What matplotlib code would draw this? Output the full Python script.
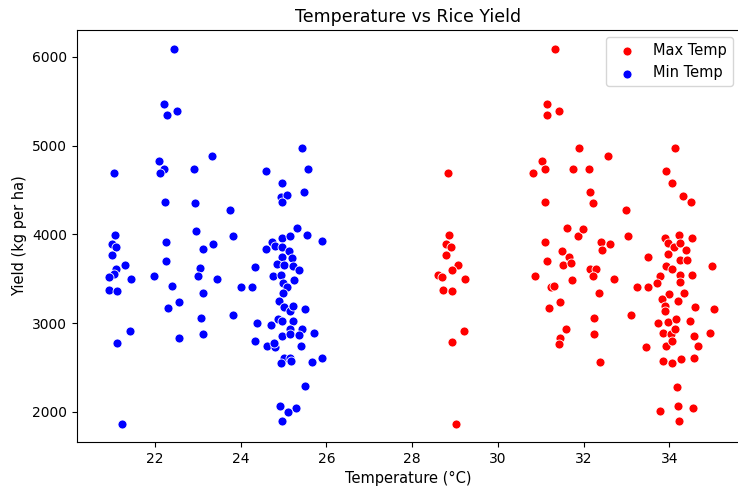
import numpy as np
import matplotlib
matplotlib.use("Agg")
import matplotlib.pyplot as plt

# Min temperature points (temp, yield)
min_temp = [22.45, 22.20, 22.52, 22.27, 22.09, 22.20, 22.12, 21.04, 22.90, 23.33,
            24.59, 24.96, 22.23, 22.93, 23.76, 21.07, 22.96, 23.81, 22.25, 23.36,
            20.99, 21.10, 23.11, 20.99, 24.59, 21.30, 22.25, 21.09, 21.05, 20.92,
            21.44, 21.98, 23.05, 23.00, 23.45, 24.33, 24.75, 20.92, 21.12, 22.40,
            23.12, 24.00, 24.26, 22.57, 22.30, 23.08, 23.82, 24.38, 24.70, 21.42,
            22.57, 23.11, 21.12, 24.33, 24.62, 24.79, 24.78, 21.24, 25.43, 25.56,
            25.48, 24.94, 25.07, 24.96, 25.31, 25.54, 24.96, 25.14, 24.73, 25.89,
            24.80, 24.96, 25.12, 24.96, 25.19, 24.84, 25.00, 25.23, 25.35, 24.93,
            24.98, 25.25, 25.08, 24.98, 24.90, 25.00, 25.14, 25.22, 25.49, 24.86,
            24.96, 25.22, 25.15, 25.44, 25.70, 24.96, 25.16, 25.36, 25.40, 25.00,
            25.15, 24.95, 25.17, 25.67, 25.89, 25.51, 24.91, 25.29, 25.11, 24.96]
min_yield = [6090, 5467, 5391, 5343, 4824, 4741, 4689, 4689, 4741, 4884,
             4715, 4580, 4362, 4350, 4279, 3990, 4037, 3982, 3914, 3891,
             3891, 3855, 3832, 3771, 3832, 3656, 3697, 3607, 3550, 3516,
             3494, 3531, 3621, 3531, 3494, 3630, 3532, 3373, 3362, 3422,
             3336, 3407, 3407, 3238, 3167, 3058, 3095, 2998, 2982, 2915,
             2829, 2874, 2780, 2795, 2742, 2727, 2776, 1859, 4971, 4741,
             4475, 4425, 4441, 4362, 4076, 3993, 3956, 3982, 3920, 3929,
             3873, 3855, 3810, 3749, 3734, 3663, 3659, 3644, 3599, 3542,
             3455, 3482, 3403, 3336, 3253, 3178, 3140, 3193, 3155, 3050,
             3020, 3027, 2930, 2930, 2888, 2851, 2874, 2862, 2745, 2610,
             2606, 2546, 2573, 2561, 2610, 2288, 2069, 2043, 2002, 1896]

# Max temperature points (temp, yield)
max_temp = [31.89, 28.83, 31.03, 30.81, 31.09, 31.76, 31.11, 31.61, 31.88, 28.85,
            28.80, 28.91, 28.80, 31.11, 31.49, 31.67, 31.14, 31.51, 31.70, 29.08,
            28.93, 28.60, 28.70, 29.24, 30.86, 31.74, 31.23, 31.30, 28.72, 28.93,
            31.46, 31.19, 31.59, 29.20, 31.46, 31.42, 28.93, 29.03, 31.34, 31.14,
            31.14, 31.42, 32.58, 34.13, 32.12, 33.92, 34.06, 32.16, 32.21, 33.00,
            34.31, 34.51, 31.99, 32.41, 32.61, 32.42, 33.04, 33.90, 34.23, 34.53,
            33.97, 34.11, 34.25, 34.38, 33.96, 34.25, 34.41, 33.50, 33.92, 34.06,
            34.99, 32.16, 32.29, 32.23, 32.71, 33.78, 34.25, 34.53, 34.25, 33.72,
            33.24, 33.50, 34.34, 34.00, 32.37, 33.84, 34.20, 33.90, 34.60, 35.05,
            33.90, 33.10, 32.25, 33.74, 33.98, 34.15, 34.48, 33.85, 34.03, 34.13,
            34.58, 34.96, 32.25, 33.92, 34.06, 34.68, 33.46, 33.85, 34.07, 34.27,
            34.58, 32.39, 34.18, 33.79, 34.20, 34.56, 34.23]
max_yield = [4971, 4692, 4827, 4692, 4737, 4737, 4365, 4076, 3979, 3993,
             3895, 3861, 3771, 3918, 3813, 3742, 3700, 3652, 3681, 3652,
             3602, 3546, 3520, 3497, 3531, 3482, 3411, 3422, 3370, 3359,
             3238, 3167, 2937, 2915, 2832, 2768, 2784, 1859, 6094, 5467,
             5343, 5395, 4884, 4971, 4741, 4715, 4580, 4475, 4354, 4279,
             4436, 4365, 4058, 3918, 3891, 3828, 3979, 3956, 3993, 3956,
             3899, 3861, 3899, 3828, 3779, 3711, 3711, 3749, 3647, 3610,
             3644, 3607, 3614, 3531, 3494, 3534, 3542, 3542, 3467, 3455,
             3411, 3411, 3336, 3325, 3336, 3275, 3253, 3193, 3178, 3155,
             3140, 3095, 3061, 2998, 3013, 3050, 3027, 2885, 2874, 2934,
             2855, 2892, 2877, 2745, 2795, 2745, 2734, 2573, 2550, 2599,
             2610, 2561, 2284, 2006, 2069, 2039, 1896]

fig = plt.figure(figsize=(7.38, 4.98), dpi=100)
ax = fig.add_axes([77 / 738, 56 / 498, 663 / 738, 412 / 498])

ax.scatter(max_temp, max_yield, color='red', edgecolor='white', linewidth=0.6, s=42, label='Max Temp')
ax.scatter(min_temp, min_yield, color='blue', edgecolor='white', linewidth=0.6, s=42, label='Min Temp')

ax.set_xlim(20.18, 35.65)
ax.set_ylim(1660, 6304)
ax.set_xticks([22, 24, 26, 28, 30, 32, 34])
ax.set_yticks([2000, 3000, 4000, 5000, 6000])
ax.set_title('Temperature vs Rice Yield', fontsize=12.5)
ax.set_xlabel('Temperature (°C)', fontsize=10.5)
ax.set_ylabel('Yield (kg per ha)', fontsize=10.5)
ax.tick_params(labelsize=10)
ax.legend(loc='upper right', fontsize=10.5)

fig.savefig('out.png', dpi=100)
